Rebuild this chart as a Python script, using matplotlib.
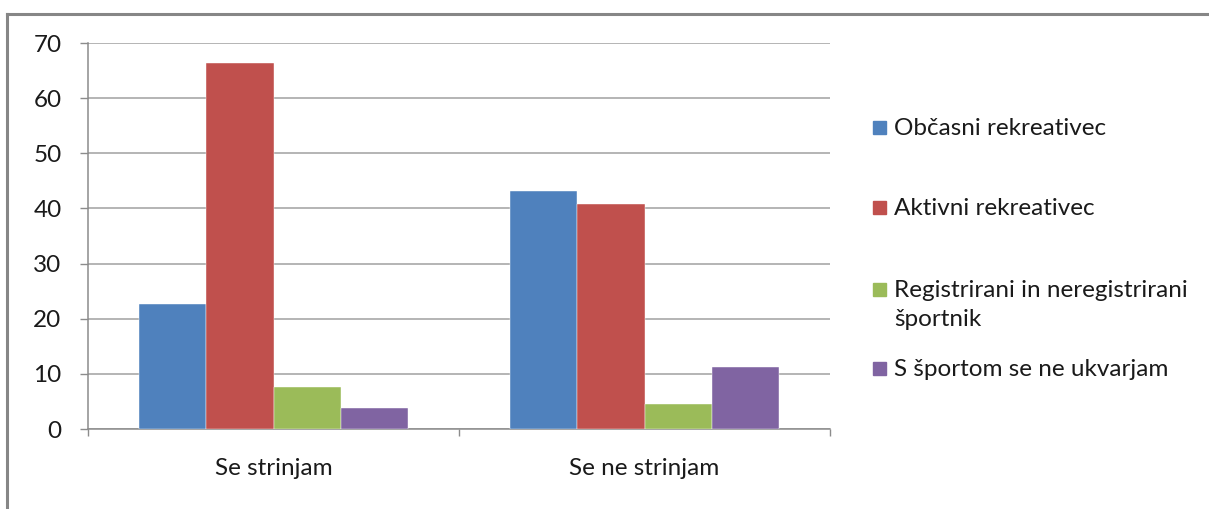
import matplotlib.pyplot as plt
import numpy as np
from matplotlib.lines import Line2D
from matplotlib.patches import Rectangle

plt.rcParams['font.family'] = ['Lato', 'DejaVu Sans']

# data
categories = ['Se strinjam', 'Se ne strinjam']
series = ['Občasni rekreativec', 'Aktivni rekreativec',
          'Registrirani in neregistrirani\nšportnik', 'S športom se ne ukvarjam']
values = [
    [22.6, 43.1],   # Občasni rekreativec
    [66.3, 40.8],   # Aktivni rekreativec
    [7.6, 4.6],     # Registrirani in neregistrirani športnik
    [3.8, 11.3],    # S športom se ne ukvarjam
]
colors = ['#4F81BD', '#C0504D', '#9BBB59', '#8064A2']

W, H = 1209, 509
fs = 17.5
fig = plt.figure(figsize=(W / 100, H / 100), dpi=100)
ax = fig.add_axes([88 / W, 80 / H, (830 - 88) / W, (429 - 43) / H])

x = np.arange(len(categories))
bar_width = 1 / 5.5  # excel default gap width 150%
for i, (vals, color) in enumerate(zip(values, colors)):
    offset = (i - 1.5) * bar_width
    ax.bar(x + offset, vals, bar_width, color=color, zorder=3,
           edgecolor='white', linewidth=0.3)

ax.set_xlim(-0.5, len(categories) - 0.5)
ax.set_ylim(0, 70)
ax.set_yticks(np.arange(0, 71, 10))
ax.yaxis.grid(True, color='#a0a0a0', linewidth=1.1, zorder=0)

# category boundaries as major ticks, labels on minor ticks
ax.set_xticks(np.arange(-0.5, len(categories), 1))
ax.set_xticklabels([])
ax.set_xticks(x, minor=True)
ax.set_xticklabels(categories, minor=True)
ax.tick_params(axis='x', which='major', length=5, width=1, color='#8c8c8c')
ax.tick_params(axis='x', which='minor', length=0, pad=21, labelsize=fs, labelcolor='#1a1a1a')
ax.tick_params(axis='y', length=6, width=1, color='#8c8c8c', pad=13,
               labelsize=fs, labelcolor='#1a1a1a')

for side in ['top', 'right']:
    ax.spines[side].set_visible(False)
for side in ['left', 'bottom']:
    ax.spines[side].set_color('#8c8c8c')
    ax.spines[side].set_linewidth(1.1)

# legend drawn by hand so the two-line entry hangs below its marker
legend_y = [128, 208, 290, 369]
for label, color, y in zip(series, colors, legend_y):
    fig.add_artist(Rectangle((873 / W, 1 - (y + 6) / H), 13 / W, 13 / H,
                             transform=fig.transFigure, color=color))
    fig.text(894 / W, 1 - (y - 10) / H, label, fontsize=fs, color='#1a1a1a',
             va='top', ha='left', linespacing=1.45)

# outer chart border (only left and top visible)
border = dict(color='#868686', linewidth=2.2, transform=fig.transFigure)
fig.add_artist(Line2D([7 / W, 7 / W], [0, 1 - 14 / H], **border))
fig.add_artist(Line2D([7 / W, 1], [1 - 14 / H, 1 - 14 / H], **border))

fig.savefig('out.png', dpi=100)
